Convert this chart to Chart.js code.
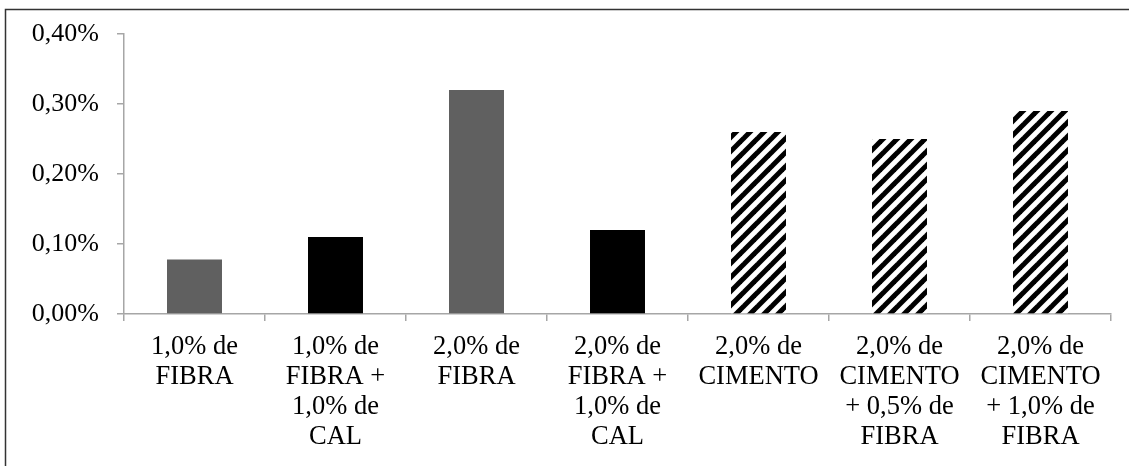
<!DOCTYPE html>
<html>
<head>
<meta charset="utf-8">
<script src="https://cdn.jsdelivr.net/npm/chart.js@4/dist/chart.umd.min.js"></script>
<style>
  html, body { margin: 0; padding: 0; background: #fff; }
  #wrap { width: 1129px; height: 466px; }
</style>
</head>
<body>
<div id="wrap"><canvas id="c" width="1129" height="466"></canvas></div>
<script>
// Mixture categories (multi-line axis labels)
const categories = [
  ['1,0% de', 'FIBRA'],
  ['1,0% de', 'FIBRA +', '1,0% de', 'CAL'],
  ['2,0% de', 'FIBRA'],
  ['2,0% de', 'FIBRA +', '1,0% de', 'CAL'],
  ['2,0% de', 'CIMENTO'],
  ['2,0% de', 'CIMENTO', '+ 0,5% de', 'FIBRA'],
  ['2,0% de', 'CIMENTO', '+ 1,0% de', 'FIBRA']
];
// Measured values, in percent
const values = [0.078, 0.11, 0.32, 0.12, 0.26, 0.25, 0.29];
// Fill style of each bar: gray, solid black or hatched
const fillKinds = ['gray', 'black', 'gray', 'black', 'hatch', 'hatch', 'hatch'];
// Y axis tick labels
const yTickLabels = ['0,00%', '0,10%', '0,20%', '0,30%', '0,40%'];

function makeHatch() {
  const p = 14;
  const t = document.createElement('canvas');
  t.width = p; t.height = p;
  const g = t.getContext('2d');
  g.fillStyle = '#fff';
  g.fillRect(0, 0, p, p);
  g.strokeStyle = '#000';
  g.lineWidth = 5;
  g.lineCap = 'square';
  for (const c of [0, p, 2 * p]) {
    g.beginPath();
    g.moveTo(c + 6, -6);
    g.lineTo(-6, c + 6);
    g.stroke();
  }
  return g.createPattern(t, 'repeat');
}

const hatch = makeHatch();
const palette = { gray: '#606060', black: '#000000', hatch: hatch };

const framePlugin = {
  id: 'frame',
  afterDraw(chart) {
    const ctx = chart.ctx;
    ctx.save();
    ctx.strokeStyle = '#333333';
    ctx.lineWidth = 1.5;
    ctx.strokeRect(5.5, 9.5, 1400, 800);
    ctx.restore();
  }
};

const serif = 'Liberation Serif, "Times New Roman", serif';

new Chart(document.getElementById('c'), {
  type: 'bar',
  data: {
    labels: categories,
    datasets: [{
      data: values,
      backgroundColor: fillKinds.map(k => palette[k]),
      borderWidth: 0,
      categoryPercentage: 0.39,
      barPercentage: 1.0
    }]
  },
  options: {
    responsive: false,
    animation: false,
    devicePixelRatio: 1,
    layout: { padding: { left: 0, right: 18, top: 34, bottom: 0 } },
    plugins: { legend: { display: false }, tooltip: { enabled: false } },
    scales: {
      x: {
        z: 1,
        grid: {
          display: true,
          drawOnChartArea: false,
          drawTicks: true,
          tickLength: 7,
          color: '#a6a6a6',
          lineWidth: 1.5
        },
        border: { display: true, color: '#a6a6a6', width: 1.5 },
        ticks: {
          color: '#000',
          padding: 11,
          maxRotation: 0,
          autoSkip: false,
          font: { family: serif, size: 26.5, lineHeight: 1.132 }
        },
        afterFit(scale) { scale.height = 152; }
      },
      y: {
        min: 0,
        max: 0.4,
        grid: {
          display: true,
          drawOnChartArea: false,
          drawTicks: true,
          tickLength: 7,
          color: '#a6a6a6',
          lineWidth: 1.5
        },
        border: { display: true, color: '#a6a6a6', width: 1.5 },
        ticks: {
          stepSize: 0.1,
          color: '#000',
          padding: 18,
          font: { family: serif, size: 26 },
          callback: (v, i) => yTickLabels[i]
        },
        afterFit(scale) { scale.width = 124; }
      }
    }
  },
  plugins: [framePlugin]
});
</script>
</body>
</html>
